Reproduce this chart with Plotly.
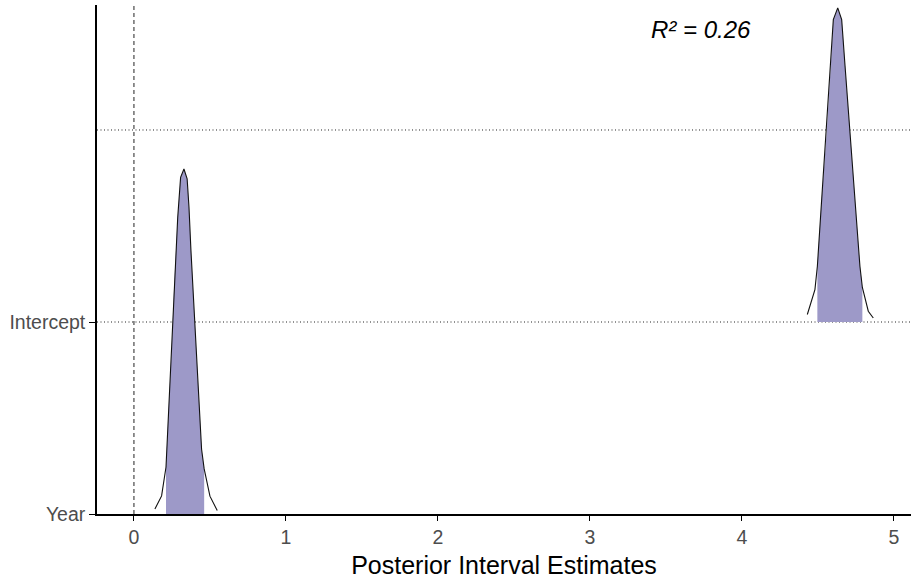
import plotly.graph_objects as go

# ---- data ----
params = ["Year", "Intercept"]
param_pos = [0, 1]

year_x = [0.138, 0.182, 0.211, 0.226, 0.248, 0.265, 0.288, 0.307, 0.329, 0.350, 0.362,
          0.375, 0.397, 0.423, 0.445, 0.462, 0.480, 0.500, 0.548]
year_d = [0.026, 0.094, 0.245, 0.509, 0.855, 1.200, 1.545, 1.753, 1.797, 1.745, 1.600,
          1.373, 1.028, 0.684, 0.337, 0.235, 0.160, 0.093, 0.018]
year_inner = [0.211, 0.462]

int_x = [4.430, 4.480, 4.496, 4.524, 4.557, 4.584, 4.601, 4.630, 4.656, 4.678, 4.711,
         4.743, 4.776, 4.792, 4.831, 4.864]
int_d = [0.039, 0.169, 0.290, 0.638, 0.987, 1.335, 1.575, 1.636, 1.575, 1.335, 0.987,
         0.638, 0.290, 0.180, 0.056, 0.021]
int_inner = [4.496, 4.792]

x_ticks = [0, 1, 2, 3, 4, 5]
r2_label = "R² = 0.26"

FILL = "#9d99c8"
TICKFONT = dict(family="Liberation Sans, Arial", size=19.5, color="#4d4d4d")

fig = go.Figure()

# reference lines
for yv in [1, 2]:
    fig.add_shape(type="line", xref="paper", x0=0, x1=1, yref="y", y0=yv, y1=yv,
                  line=dict(color="#222222", width=1, dash="1px,2.5px"), layer="below")
fig.add_shape(type="line", xref="x", x0=0, x1=0, yref="paper", y0=0, y1=1,
              line=dict(color="#222222", width=1, dash="4px,3px"), layer="below")

curves = [(year_x, year_d, year_inner, param_pos[0]), (int_x, int_d, int_inner, param_pos[1])]
for xs, ds, inner, base in curves:
    sx = [x for x in xs if inner[0] <= x <= inner[1]]
    sy = [base + d for x, d in zip(xs, ds) if inner[0] <= x <= inner[1]]
    poly_x = [sx[0]] + sx + [sx[-1], sx[0]]
    poly_y = [base] + sy + [base, base]
    fig.add_trace(go.Scatter(x=poly_x, y=poly_y, mode="lines", fill="toself",
                             fillcolor=FILL, line=dict(width=0, color=FILL),
                             hoverinfo="skip", showlegend=False))
    fig.add_trace(go.Scatter(x=xs, y=[base + d for d in ds], mode="lines",
                             line=dict(color="#111111", width=1.1),
                             showlegend=False))

fig.add_annotation(x=3.73, y=2.525, xref="x", yref="y", text=r2_label, showarrow=False,
                   font=dict(family="Liberation Sans, Arial", size=24, color="#000000", style="italic"))

fig.update_layout(
    width=913, height=583,
    margin=dict(l=97, r=2, t=5, b=69),
    paper_bgcolor="white", plot_bgcolor="white",
    showlegend=False,
)
fig.update_xaxes(range=[-0.243, 5.112], tickvals=x_ticks, ticktext=[str(v) for v in x_ticks],
                 showgrid=False, zeroline=False, showline=True, linecolor="black", linewidth=1.6,
                 ticks="outside", ticklen=5, tickwidth=1.3, tickcolor="black",
                 tickfont=TICKFONT,
                 title=dict(text="Posterior Interval Estimates",
                            font=dict(family="Liberation Sans, Arial", size=25, color="#000000"),
                            standoff=9))
fig.update_yaxes(range=[0, 2.651], tickvals=param_pos, ticktext=params,
                 showgrid=False, zeroline=False, showline=True, linecolor="black", linewidth=1.6,
                 ticks="outside", ticklen=6, tickwidth=1.3, tickcolor="black",
                 tickfont=TICKFONT)

fig.write_html("out.html", config={"displayModeBar": False},
               post_script="document.body.style.margin='0';document.body.style.padding='0';")
